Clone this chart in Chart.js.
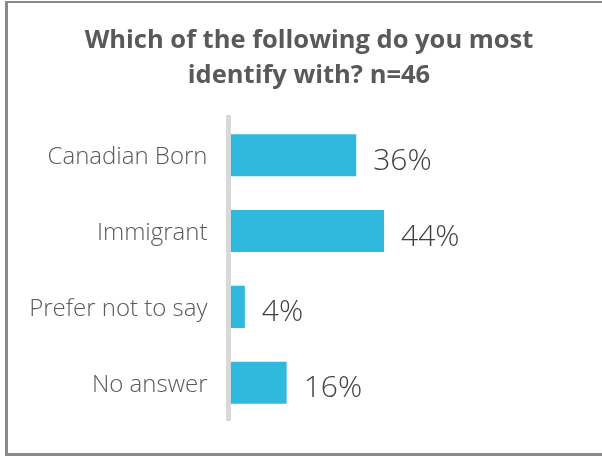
<!DOCTYPE html>
<html>
<head>
<meta charset="utf-8">
<script src="https://cdn.jsdelivr.net/npm/chart.js@4/dist/chart.umd.min.js"></script>
<style>
  html, body { margin: 0; padding: 0; background: #ffffff; overflow: hidden; }
  #wrap { position: relative; width: 602px; height: 456px; }
  #frame {
    position: absolute; left: 5px; top: 1px; width: 700px; height: 450px;
    border-top: 2px solid #8a8a8a; border-left: 3px solid #8a8a8a; border-bottom: 3px solid #8a8a8a;
    pointer-events: none;
  }
</style>
</head>
<body>
<div id="wrap">
  <canvas id="chart"></canvas>
  <div id="frame"></div>
</div>
<script>
// Survey question and answer shares (percent of respondents)
const titleLines = ['Which of the following do you most', 'identify with? n=46'];
const categories = ['Canadian Born', 'Immigrant', 'Prefer not to say', 'No answer'];
const shares = [36, 44, 4, 16];

const BAR_COLOR = '#31b9dd';
const TEXT_GREY = '#595959';
const VALUE_GREY = '#404040';
const FONT = '"Open Sans", Lato, sans-serif';

// Writes the percentage just to the right of each bar
const valueLabels = {
  id: 'valueLabels',
  afterDatasetsDraw(chart) {
    const ctx = chart.ctx;
    const meta = chart.getDatasetMeta(0);
    ctx.save();
    ctx.font = '300 30px ' + FONT;
    ctx.fillStyle = VALUE_GREY;
    ctx.textAlign = 'left';
    ctx.textBaseline = 'alphabetic';
    meta.data.forEach((bar, i) => {
      ctx.fillText(shares[i] + '%', bar.x + 17, bar.y + 14.5);
    });
    ctx.restore();
  }
};

new Chart(document.getElementById('chart'), {
  type: 'bar',
  data: {
    labels: categories,
    datasets: [{
      data: shares,
      backgroundColor: BAR_COLOR,
      borderWidth: 0,
      categoryPercentage: 1,
      barPercentage: 0.555
    }]
  },
  options: {
    indexAxis: 'y',
    responsive: true,
    maintainAspectRatio: false,
    animation: false,
    layout: { padding: { left: 16, right: 0, top: 0, bottom: 30.5 } },
    plugins: {
      legend: { display: false },
      tooltip: { enabled: false },
      title: {
        display: true,
        text: titleLines,
        color: TEXT_GREY,
        font: { family: FONT, size: 25.5, weight: 'bold', lineHeight: 1.38 },
        padding: { top: 23, bottom: 24 }
      }
    },
    scales: {
      x: {
        display: false,
        min: -0.7,
        max: 106.6
      },
      y: {
        afterFit(scale) { scale.width = 212.5; },
        grid: { display: false, drawTicks: false },
        border: { display: true, color: '#d9d9d9', width: 5 },
        ticks: {
          color: TEXT_GREY,
          padding: 21,
          labelOffset: 2,
          font: { family: FONT, size: 24, weight: 300 }
        }
      }
    }
  },
  plugins: [valueLabels]
});
</script>
</body>
</html>
